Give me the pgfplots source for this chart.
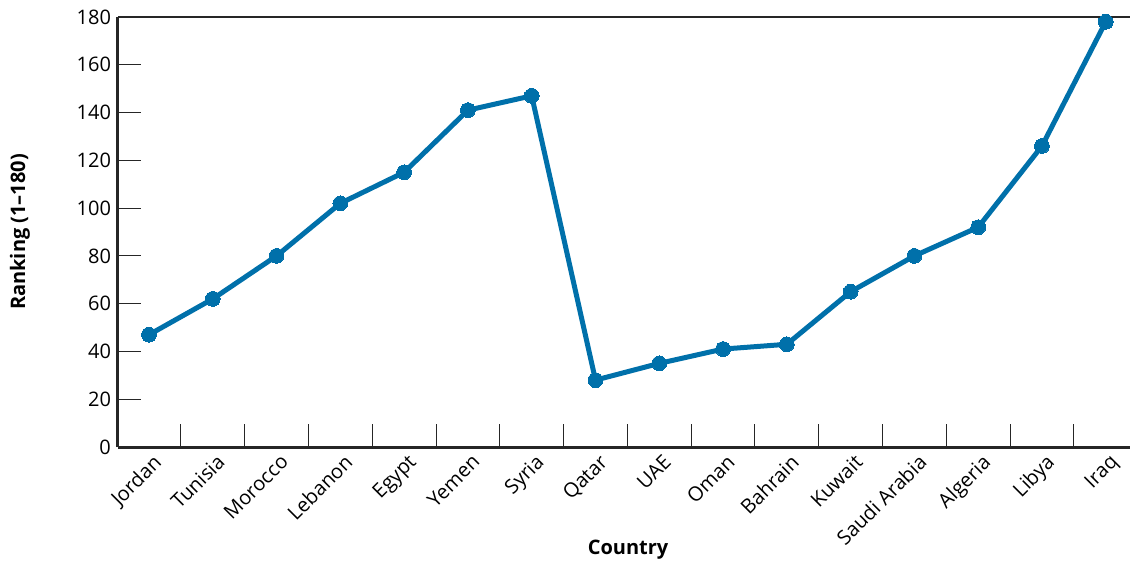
\documentclass[border=0pt]{standalone}
\usepackage{fontspec}
\setmainfont{Open Sans}
\usepackage{pgfplots}
\pgfplotsset{compat=1.18}
\definecolor{lineblue}{RGB}{0,112,170}
\begin{document}
\begin{tikzpicture}
\useasboundingbox (-59pt,-57.5pt) rectangle (506pt,223.5pt);
\begin{axis}[
  at={(0,0)}, anchor=south west,
  scale only axis,
  width=506pt, height=215pt,
  xmin=-0.486, xmax=15.38,
  ymin=0, ymax=180,
  axis x line*=bottom, axis y line*=left,
  axis line style={line width=1.5pt, black!85},
  tick align=inside,
  xtick={0,...,15},
  xticklabels={Jordan,Tunisia,Morocco,Lebanon,Egypt,Yemen,Syria,Qatar,UAE,Oman,Bahrain,Kuwait,Saudi Arabia,Algeria,Libya,Iraq},
  major x tick style={draw=none},
  minor xtick={0.5,1.5,...,14.5},
  minor tick length=11.5pt,
  minor tick style={black!85, line width=0.5pt},
  x tick label style={rotate=45, anchor=north east, font=\fontsize{10}{12}\selectfont, inner sep=1pt, yshift=-2pt},
  ytick={0,20,...,160},
  extra y ticks={180},
  extra y tick style={grid=major, major grid style={black!85, line width=0.6pt}, major tick length=0pt},
  major tick length=11.5pt,
  y tick style={black!85, line width=0.5pt},
  y tick label style={font=\fontsize{10}{12}\selectfont},
  /pgf/number format/assume math mode=true,
  xlabel={\textbf{Country}},
  ylabel={\textbf{Ranking (1–180)}},
  xlabel style={at={(axis description cs:0.504,0)}, anchor=center, yshift=-51.5pt},
  ylabel style={at={(axis description cs:0,0.5)}, anchor=center, rotate=0, yshift=49pt},
  label style={font=\fontsize{10}{12}\selectfont},
  clip=false,
]
\addplot[lineblue, line width=2.5pt, mark=*, mark size=3.7pt, mark options={fill=lineblue, draw=lineblue, line width=0pt}] coordinates {
(0,47) (1,62) (2,80) (3,102) (4,115) (5,141) (6,147) (7,28) (8,35) (9,41) (10,43) (11,65) (12,80) (13,92) (14,126) (15,178)
};
\end{axis}
\end{tikzpicture}
\end{document}
